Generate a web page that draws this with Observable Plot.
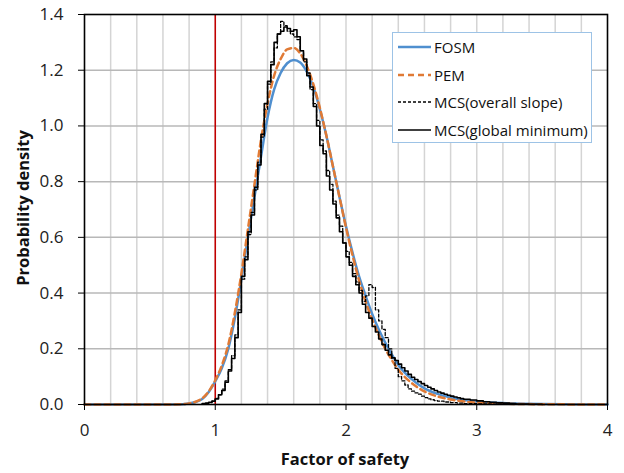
<!DOCTYPE html>
<html>
<head>
<meta charset="utf-8">
<script src="https://cdn.jsdelivr.net/npm/d3@7"></script>
<script src="https://cdn.jsdelivr.net/npm/@observablehq/plot@0.6"></script>
<style>
  body { margin: 0; background: #fff; }
  #wrap { position: relative; width: 624px; height: 473px; font-family: "Open Sans", sans-serif; }
  #chart svg text { font-size: 17px; fill: #222; }
  #legend { position: absolute; left: 392px; top: 32px; width: 200px; height: 111px; background: #fff;
            border: 1px solid #9dc3e6; box-sizing: border-box; }
  .row { position: absolute; left: 5px; height: 20px; display: flex; align-items: center; font-size: 15px; color: #111; }
  .row svg { margin-right: 3px; }
  #xlab { position: absolute; left: 0; width: 690px; top: 447px; text-align: center; font-weight: bold; font-size: 16.5px; color: #111; }
  #ylab { position: absolute; left: 22px; top: 208px; transform: translate(-50%, -50%) rotate(-90deg); white-space: nowrap;
          font-weight: bold; font-size: 16.5px; color: #111; }
</style>
</head>
<body>
<div id="wrap">
  <div id="chart"></div>
  <div id="legend"></div>
  <div id="xlab">Factor of safety</div>
  <div id="ylab">Probability density</div>
</div>
<script>
// ---- data ----
const xTicks = [0, 1, 2, 3, 4];
const yTicks = [0, 0.2, 0.4, 0.6, 0.8, 1.0, 1.2, 1.4];
const xGrid = [0.2, 0.4, 0.6, 0.8, 1.2, 1.4, 1.6, 1.8, 2.0, 2.2, 2.4, 2.6, 2.8, 3.0, 3.2, 3.4, 3.6, 3.8];
const yGrid = [0.2, 0.4, 0.6, 0.8, 1.0, 1.2];
const limitFS = [1];

const fosmX = [0, 0.6, 0.75, 0.8, 0.85, 0.9, 0.95, 1.0, 1.05, 1.1, 1.15, 1.2, 1.25, 1.3, 1.35, 1.4, 1.45, 1.5, 1.55, 1.6, 1.65, 1.7, 1.75, 1.8, 1.85, 1.9, 1.95, 2.0, 2.05, 2.1, 2.15, 2.2, 2.25, 2.3, 2.35, 2.4, 2.5, 2.6, 2.7, 2.8, 2.9, 3.0, 3.2, 3.5, 4.0];
const fosmY = [0, 0, 0.001, 0.004, 0.009, 0.02, 0.045, 0.083, 0.13, 0.2, 0.31, 0.45, 0.6, 0.745, 0.89, 1.03, 1.13, 1.19, 1.225, 1.237, 1.228, 1.195, 1.14, 1.06, 0.965, 0.855, 0.745, 0.64, 0.545, 0.46, 0.39, 0.325, 0.27, 0.222, 0.18, 0.142, 0.092, 0.058, 0.038, 0.025, 0.016, 0.011, 0.005, 0.0015, 0];

const pemX = [0, 0.6, 0.75, 0.8, 0.85, 0.9, 0.95, 1.0, 1.05, 1.1, 1.15, 1.2, 1.25, 1.3, 1.35, 1.4, 1.45, 1.5, 1.55, 1.6, 1.65, 1.7, 1.75, 1.8, 1.85, 1.9, 1.95, 2.0, 2.05, 2.1, 2.15, 2.2, 2.25, 2.3, 2.35, 2.4, 2.5, 2.6, 2.7, 2.8, 2.9, 3.0, 3.2, 3.5, 4.0];
const pemY = [0, 0, 0.001, 0.004, 0.01, 0.022, 0.047, 0.087, 0.14, 0.215, 0.33, 0.47, 0.63, 0.79, 0.95, 1.08, 1.18, 1.24, 1.275, 1.28, 1.26, 1.215, 1.15, 1.065, 0.965, 0.855, 0.745, 0.635, 0.535, 0.445, 0.37, 0.305, 0.25, 0.2, 0.16, 0.125, 0.078, 0.047, 0.029, 0.018, 0.011, 0.007, 0.003, 0.001, 0];

const mcsGlobalX = [0.9, 0.925, 0.95, 0.975, 1.0, 1.025, 1.05, 1.075, 1.1, 1.125, 1.15, 1.175, 1.2, 1.225, 1.25, 1.275, 1.3, 1.325, 1.35, 1.375, 1.4, 1.425, 1.45, 1.475, 1.5, 1.525, 1.55, 1.575, 1.6, 1.625, 1.65, 1.675, 1.7, 1.725, 1.75, 1.775, 1.8, 1.825, 1.85, 1.875, 1.9, 1.925, 1.95, 1.975, 2.0, 2.025, 2.05, 2.075, 2.1, 2.125, 2.15, 2.175, 2.2, 2.225, 2.25, 2.275, 2.3, 2.325, 2.35, 2.375, 2.4, 2.425, 2.45, 2.475, 2.5, 2.525, 2.55, 2.575, 2.6, 2.625, 2.65, 2.675, 2.7, 2.725, 2.75, 2.775, 2.8, 2.825, 2.85, 2.875, 2.9, 2.95, 3.0, 3.05, 3.1, 3.15, 3.2, 3.25, 3.3, 3.4, 3.5];
const mcsGlobalY = [0.003, 0.005, 0.008, 0.012, 0.02, 0.035, 0.05, 0.08, 0.12, 0.165, 0.24, 0.33, 0.46, 0.52, 0.62, 0.68, 0.78, 0.86, 0.97, 1.08, 1.16, 1.22, 1.3, 1.33, 1.34, 1.355, 1.35, 1.34, 1.345, 1.32, 1.27, 1.24, 1.18, 1.14, 1.07, 1.0, 0.93, 0.9, 0.82, 0.77, 0.72, 0.67, 0.62, 0.58, 0.53, 0.5, 0.46, 0.43, 0.4, 0.36, 0.33, 0.31, 0.28, 0.26, 0.235, 0.215, 0.195, 0.178, 0.168, 0.158, 0.145, 0.132, 0.12, 0.108, 0.098, 0.09, 0.082, 0.075, 0.068, 0.062, 0.056, 0.05, 0.045, 0.041, 0.037, 0.033, 0.03, 0.027, 0.024, 0.021, 0.019, 0.016, 0.013, 0.01, 0.008, 0.006, 0.005, 0.003, 0.002, 0.001, 0];

const mcsSlopeX = [0.9, 0.925, 0.95, 0.975, 1.0, 1.025, 1.05, 1.075, 1.1, 1.125, 1.15, 1.175, 1.2, 1.225, 1.25, 1.275, 1.3, 1.325, 1.35, 1.375, 1.4, 1.425, 1.45, 1.475, 1.5, 1.525, 1.55, 1.575, 1.6, 1.625, 1.65, 1.675, 1.7, 1.725, 1.75, 1.775, 1.8, 1.825, 1.85, 1.875, 1.9, 1.925, 1.95, 1.975, 2.0, 2.025, 2.05, 2.075, 2.1, 2.125, 2.15, 2.175, 2.2, 2.225, 2.25, 2.275, 2.3, 2.325, 2.35, 2.375, 2.4, 2.425, 2.45, 2.475, 2.5, 2.525, 2.55, 2.575, 2.6, 2.625, 2.65, 2.675, 2.7, 2.75, 2.8, 2.85, 2.9, 3.0, 3.1, 3.2];
const mcsSlopeY = [0.002, 0.004, 0.007, 0.012, 0.022, 0.035, 0.055, 0.085, 0.125, 0.175, 0.25, 0.34, 0.45, 0.53, 0.61, 0.69, 0.77, 0.87, 0.96, 1.06, 1.15, 1.23, 1.28, 1.33, 1.375, 1.36, 1.34, 1.33, 1.32, 1.31, 1.27, 1.23, 1.19, 1.13, 1.08, 1.02, 0.95, 0.91, 0.84, 0.79, 0.73, 0.68, 0.64, 0.58, 0.55, 0.51, 0.47, 0.44, 0.41, 0.37, 0.39, 0.43, 0.42, 0.34, 0.3, 0.27, 0.24, 0.2, 0.165, 0.13, 0.1, 0.085, 0.07, 0.056, 0.048, 0.042, 0.037, 0.03, 0.025, 0.02, 0.017, 0.014, 0.012, 0.009, 0.007, 0.005, 0.003, 0.002, 0.001, 0];

const seriesNames = ["FOSM", "PEM", "MCS(overall slope)", "MCS(global minimum)"];

// ---- build tables ----
const zip = (xs, ys) => xs.map((x, i) => ({x, y: ys[i]}));
const fosm = zip(fosmX, fosmY);
const pem = zip(pemX, pemY);
const mcsG = zip(mcsGlobalX, mcsGlobalY);
const mcsS = zip(mcsSlopeX, mcsSlopeY);

const blue = "#4f8fcf", orange = "#e07a35";

const chart = Plot.plot({
  width: 624,
  height: 473,
  marginLeft: 84,
  marginRight: 17,
  marginTop: 14,
  marginBottom: 69,
  style: {fontFamily: "Open Sans, sans-serif", fontSize: "17px", color: "#222", background: "#fff"},
  x: {domain: [0, 4]},
  y: {domain: [0, 1.4]},
  marks: [
    Plot.ruleX(xGrid, {stroke: "#d4d4d4", strokeWidth: 1.5}),
    Plot.ruleY(yGrid, {stroke: "#b8b8b8", strokeWidth: 1.5}),
    Plot.ruleX(limitFS, {stroke: "#c00000", strokeWidth: 1.6}),
    Plot.line(fosm, {x: "x", y: "y", stroke: blue, strokeWidth: 2.5, curve: "monotone-x"}),
    Plot.line(pem, {x: "x", y: "y", stroke: orange, strokeWidth: 2.5, strokeDasharray: "6,4", curve: "monotone-x"}),
    Plot.line(mcsS, {x: "x", y: "y", stroke: "#000", strokeWidth: 1.3, strokeDasharray: "3,2", curve: "step-after"}),
    Plot.line(mcsG, {x: "x", y: "y", stroke: "#000", strokeWidth: 1.6, curve: "step-after"}),
    Plot.frame({stroke: "#000", strokeWidth: 1.6}),
    Plot.axisX({ticks: xTicks, tickSize: 6, tickPadding: 13, tickFormat: d => String(d), label: null, stroke: "#000"}),
    Plot.axisY({ticks: yTicks, tickSize: 6, tickPadding: 15, tickFormat: d3.format(".1f"), label: null, stroke: "#000"})
  ]
});
document.getElementById("chart").appendChild(chart);

// ---- legend ----
const legendStyles = [
  {stroke: blue, width: 2.5, dash: null},
  {stroke: orange, width: 2.5, dash: "6,4"},
  {stroke: "#000", width: 1.3, dash: "3,2"},
  {stroke: "#000", width: 1.6, dash: null}
];
const legend = document.getElementById("legend");
seriesNames.forEach((name, i) => {
  const s = legendStyles[i];
  const row = document.createElement("div");
  row.className = "row";
  row.style.top = (4 + i * 27.5) + "px";
  row.innerHTML = `<svg width="33" height="6"><line x1="0" y1="3" x2="33" y2="3" stroke="${s.stroke}" stroke-width="${s.width}" ${s.dash ? `stroke-dasharray="${s.dash}"` : ""}/></svg><span>${name}</span>`;
  legend.appendChild(row);
});
</script>
</body>
</html>
